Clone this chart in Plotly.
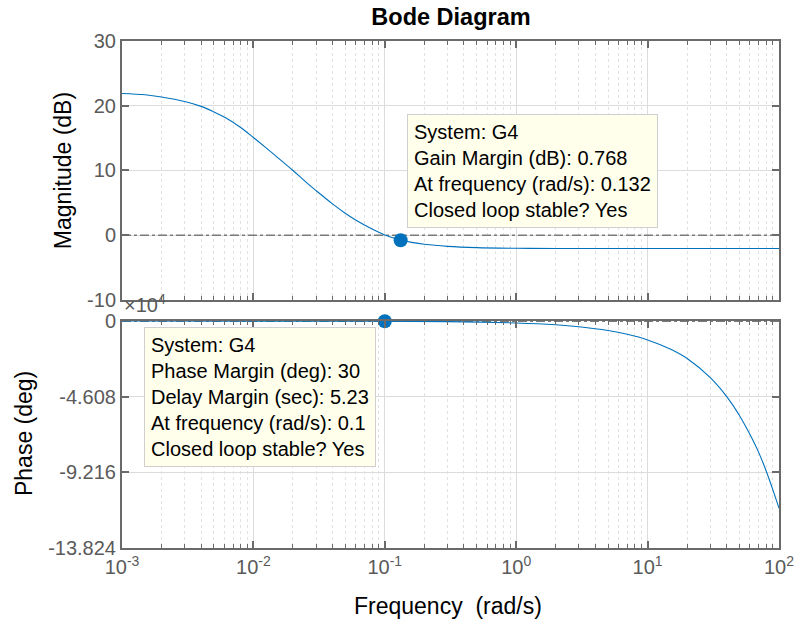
import plotly.graph_objects as go

# ---------------- data ----------------
freq_mag = [0.001, 0.0015, 0.002, 0.003, 0.004, 0.005, 0.006, 0.008, 0.01, 0.0125,
            0.015, 0.02, 0.025, 0.03, 0.04, 0.05, 0.06, 0.08, 0.1, 0.132,
            0.16, 0.2, 0.3, 0.5, 1, 2, 5, 100]
mag_db = [21.9, 21.7, 21.35, 20.65, 19.9, 19.05, 18.25, 16.65, 15.1, 13.5,
          12.15, 10.0, 8.25, 6.9, 4.85, 3.4, 2.35, 0.95, 0.05, -0.74,
          -1.1, -1.4, -1.72, -1.92, -2.01, -2.04, -2.05, -2.05]

freq_ph = [0.001, 0.01, 0.1, 0.3, 1, 2, 3, 5, 7, 10, 15, 20, 30, 40, 50, 60, 70, 80, 90, 100]
phase_e4 = [-0.0006, -0.0045, -0.015, -0.036, -0.117, -0.23, -0.35, -0.58, -0.81, -1.15,
            -1.72, -2.28, -3.45, -4.60, -5.75, -6.90, -8.00, -9.15, -10.30, -11.40]

freq_range = [1e-3, 1e2]
mag_ref_db = [0, 0]
phase_ref_e4 = [-0.018, -0.018]

gm_freq = [0.132]
gm_db = [-0.768]
pm_freq = [0.1]
pm_e4 = [-0.015]

decades = [1e-3, 1e-2, 1e-1, 1e0, 1e1, 1e2]
x_ticktext = ["10<sup>-3</sup>", "10<sup>-2</sup>", "10<sup>-1</sup>",
              "10<sup>0</sup>", "10<sup>1</sup>", "10<sup>2</sup>"]
minor_digits = [2, 3, 4, 5, 6, 7, 8, 9]
mag_ticks = [-10, 0, 10, 20, 30]
mag_ticktext = ["-10", "0", "10", "20", "30"]
ph_ticks = [-13.824, -9.216, -4.608, 0]
ph_ticktext = ["-13.824", "-9.216", "-4.608", "0"]

gm_text = ["System: G4", "Gain Margin (dB): 0.768",
           "At frequency (rad/s): 0.132", "Closed loop stable? Yes"]
pm_text = ["System: G4", "Phase Margin (deg): 30", "Delay Margin (sec): 5.23",
           "At frequency (rad/s): 0.1", "Closed loop stable? Yes"]

# ---------------- styling ----------------
BLUE = "#0072BD"
AXC = "#6a6a6a"
TICKC = "#5a5a5a"
FONT = "Liberation Sans, Arial, Helvetica, sans-serif"

minor_vals = [d * m for d in decades[:-1] for m in minor_digits]

fig = go.Figure()

fig.add_trace(go.Scatter(x=freq_range, y=mag_ref_db, mode="lines",
                         line=dict(color="#7a7a7a", width=1.3, dash="dashdot"),
                         xaxis="x", yaxis="y", hoverinfo="skip"))
fig.add_trace(go.Scatter(x=freq_mag, y=mag_db, mode="lines",
                         line=dict(color=BLUE, width=1.1, shape="spline", smoothing=1.0),
                         xaxis="x", yaxis="y"))
fig.add_trace(go.Scatter(x=gm_freq, y=gm_db, mode="markers",
                         marker=dict(color=BLUE, size=14), cliponaxis=False,
                         xaxis="x", yaxis="y"))

fig.add_trace(go.Scatter(x=freq_range, y=phase_ref_e4, mode="lines",
                         line=dict(color="#7a7a7a", width=1.3, dash="dashdot"),
                         xaxis="x2", yaxis="y2", hoverinfo="skip"))
fig.add_trace(go.Scatter(x=freq_ph, y=phase_e4, mode="lines",
                         line=dict(color=BLUE, width=1.1, shape="spline", smoothing=0.8),
                         xaxis="x2", yaxis="y2"))
fig.add_trace(go.Scatter(x=pm_freq, y=pm_e4, mode="markers",
                         marker=dict(color=BLUE, size=14), cliponaxis=False,
                         xaxis="x2", yaxis="y2"))

def xaxis_cfg(show_labels, anchor):
    return dict(
        type="log", range=[-3, 2], domain=[0, 1], anchor=anchor,
        tickmode="array", tickvals=decades, ticktext=x_ticktext,
        showticklabels=show_labels,
        ticks="inside", ticklen=7, tickwidth=1.5, tickcolor=AXC,
        showline=True, linecolor=AXC, linewidth=2, mirror="allticks",
        showgrid=True, gridcolor="#dcdcdc", gridwidth=1,
        minor=dict(tickmode="array", tickvals=minor_vals,
                   ticks="inside", ticklen=4, tickwidth=1.2, tickcolor=AXC,
                   showgrid=True, gridcolor="#e2e2e2", griddash="dot", gridwidth=1),
        zeroline=False,
        tickfont=dict(family=FONT, size=20, color=TICKC),
    )

def yaxis_cfg(dom, anchor, rng, vals, text):
    return dict(domain=dom, anchor=anchor, range=rng, tickmode="array",
                tickvals=vals, ticktext=text,
                ticks="inside", ticklen=7, tickwidth=1.5, tickcolor=AXC,
                showline=True, linecolor=AXC, linewidth=2, mirror="allticks",
                showgrid=True, gridcolor="#dcdcdc", zeroline=False,
                tickfont=dict(family=FONT, size=20, color=TICKC))

top_dom = [0.4892, 1.0]
bot_dom = [0.0, 0.4477]

fig.update_layout(
    width=806, height=626,
    margin=dict(l=122, r=20, t=41, b=78),
    paper_bgcolor="white", plot_bgcolor="white",
    showlegend=False,
    font=dict(family=FONT),
    title=dict(text="<b>Bode Diagram</b>", x=451 / 806, xanchor="center",
               y=1 - 17 / 626, yanchor="middle",
               font=dict(family=FONT, size=23.5, color="black")),
    xaxis=xaxis_cfg(False, "y"),
    xaxis2=xaxis_cfg(True, "y2"),
    yaxis=yaxis_cfg(top_dom, "x", [-10, 30], mag_ticks, mag_ticktext),
    yaxis2=yaxis_cfg(bot_dom, "x2", [-13.824, 0], ph_ticks, ph_ticktext),
)

annotations = [
    dict(text="<br>".join(gm_text), xref="paper", yref="paper",
         x=(410 - 122) / 664, y=(548 - 114) / 507, xanchor="left", yanchor="top",
         align="left", showarrow=False, bgcolor="#FFFFEC", bordercolor="#cfcfcf",
         borderwidth=1, borderpad=6, font=dict(family=FONT, size=20, color="black")),
    dict(text="<br>".join(pm_text), xref="paper", yref="paper",
         x=(144 - 122) / 664, y=(548 - 327) / 507, xanchor="left", yanchor="top",
         align="left", showarrow=False, bgcolor="#FFFFEC", bordercolor="#cfcfcf",
         borderwidth=1, borderpad=6, font=dict(family=FONT, size=20, color="black")),
    dict(text="Magnitude (dB)", xref="paper", yref="paper",
         x=(62 - 122) / 664, y=(548 - 170.5) / 507, xanchor="center", yanchor="middle",
         textangle=-90, showarrow=False, font=dict(family=FONT, size=23, color="black")),
    dict(text="Phase (deg)", xref="paper", yref="paper",
         x=(23 - 122) / 664, y=(548 - 434) / 507, xanchor="center", yanchor="middle",
         textangle=-90, showarrow=False, font=dict(family=FONT, size=23, color="black")),
    dict(text="Frequency\u00a0\u00a0(rad/s)", xref="paper", yref="paper",
         x=(451 - 122) / 664, y=(548 - 606) / 507, xanchor="center", yanchor="middle",
         showarrow=False, font=dict(family=FONT, size=23, color="black")),
    dict(text="\u00d710<sup>4</sup>", xref="paper", yref="paper",
         x=0, y=(548 - 318) / 507, xanchor="left", yanchor="bottom",
         showarrow=False, font=dict(family=FONT, size=20, color=TICKC)),
]
fig.update_layout(annotations=annotations)

fig.write_html("out.html")
